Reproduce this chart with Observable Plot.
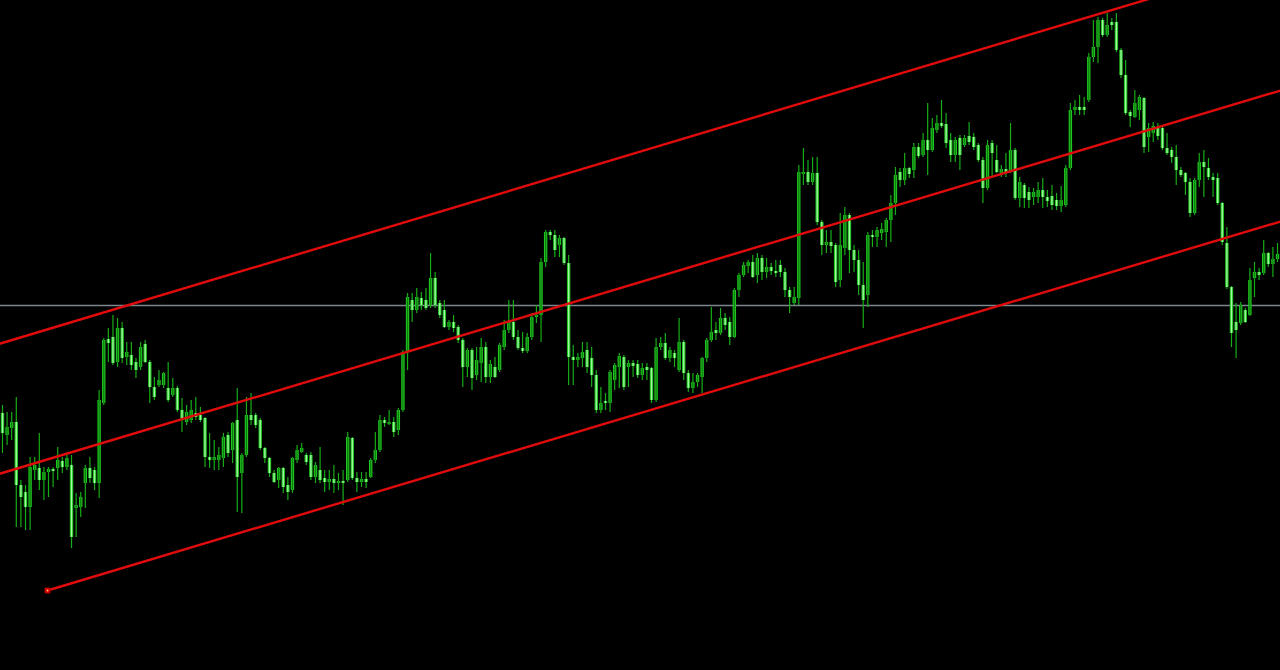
<!DOCTYPE html>
<html>
<head>
<meta charset="utf-8">
<script src="https://cdn.jsdelivr.net/npm/d3@7"></script>
<script src="https://cdn.jsdelivr.net/npm/@observablehq/plot@0.6"></script>
<style>
  html, body { margin: 0; padding: 0; background: #000; }
  #chart svg { display: block; overflow: hidden; }
</style>
</head>
<body>
<div id="chart"></div>
<script>
// Price series (arbitrary price units), one entry per bar
const open = [
587,565,572,578,515,508,493,530,532,520,
528,531,532,539,533,535,492,493,517,532,
530,517,597,661,663,638,672,643,645,638,
633,656,638,613,615,615,612,605,612,590,
578,580,587,585,582,543,540,540,542,565,
550,580,527,545,585,585,580,552,542,527,
520,532,515,510,540,548,545,545,523,530,
522,518,521,517,519,520,562,522,518,521,
523,540,550,580,576,578,570,590,648,700,
690,702,700,695,722,697,690,673,678,673,
660,633,650,625,637,653,623,633,630,653,
670,678,663,652,649,663,683,685,738,768,
765,755,762,737,643,640,642,650,642,625,
590,599,597,620,633,643,633,637,636,625,
633,632,600,653,657,642,647,630,658,627,
612,618,623,642,660,670,667,682,678,663,
710,725,734,738,725,742,728,733,729,735,
728,710,697,702,826,828,818,827,778,755,
758,755,720,752,785,750,740,715,705,765,
763,767,768,780,797,828,820,832,830,853,
845,860,850,870,877,876,860,845,862,855,
864,863,855,840,812,857,840,827,831,828,
850,802,815,808,803,803,810,803,804,800,
794,795,832,890,893,893,900,943,953,980,
965,978,978,950,925,888,883,890,902,863,
867,872,872,852,850,843,830,827,818,787,
820,838,832,823,822,797,757,713,678,677,
690,685,722,728,727,747,736,741
];
const high = [
595,588,588,603,520,515,543,543,567,533,
533,533,553,543,545,545,507,508,535,543,
533,610,662,672,685,682,678,658,658,642,
658,660,640,623,630,628,638,622,614,602,
595,600,603,593,583,567,560,553,567,568,
578,612,547,603,607,587,582,553,543,530,
533,533,523,543,555,557,547,548,538,553,
530,530,535,527,530,568,563,528,528,528,
542,568,585,583,590,583,592,650,707,707,
712,708,712,747,728,700,700,680,685,675,
662,652,652,653,662,658,640,643,657,680,
700,700,670,668,667,687,695,742,770,770,
770,765,763,745,655,647,658,658,653,630,
613,607,630,637,647,645,640,640,640,637,
637,633,662,663,667,653,650,682,660,630,
627,627,643,662,693,678,692,687,683,712,
727,738,740,745,747,745,742,737,740,740,
732,713,713,835,852,840,843,843,780,770,
770,757,787,793,787,755,750,738,768,770,
773,777,782,805,833,832,847,833,857,857,
867,897,882,885,900,887,867,863,865,865,
878,867,857,843,860,860,855,835,847,877,
852,823,817,813,812,818,822,810,815,807,
814,835,897,900,905,903,947,980,983,982,
987,982,987,952,940,890,910,905,903,877,
878,877,874,867,853,855,833,828,822,822,
847,850,842,827,827,798,773,714,697,698,
692,732,738,732,760,748,753,757
];
const low = [
547,555,560,473,473,470,470,520,510,500,
503,513,520,527,530,452,463,483,492,517,
510,502,595,638,635,633,637,635,630,622,
630,637,597,600,613,612,598,603,588,568,
575,577,580,578,533,532,530,530,533,543,
537,488,487,543,575,572,550,537,523,517,
512,507,500,507,537,547,535,520,517,517,
508,510,507,510,495,518,520,508,513,512,
522,537,548,573,575,563,565,588,630,678,
687,690,690,692,692,682,672,670,668,657,
613,623,610,620,618,617,617,622,628,650,
667,660,650,647,647,660,677,658,733,760,
743,743,735,615,615,633,633,627,613,587,
587,590,588,610,612,610,613,623,622,620,
620,597,598,650,640,638,633,628,620,608,
607,613,607,638,658,660,665,670,655,662,
703,723,727,722,717,720,722,725,723,723,
703,687,695,695,815,815,815,775,745,747,
747,713,713,745,727,728,705,672,693,753,
753,760,753,758,785,813,815,822,822,842,
843,825,848,867,872,852,838,838,830,853,
855,850,838,797,810,822,827,823,823,827,
800,793,792,792,795,797,792,793,790,790,
788,793,830,885,885,885,898,938,937,963,
963,970,948,922,885,873,882,880,847,848,
858,860,850,845,837,815,823,805,783,785,
813,803,820,803,795,755,711,653,642,675,
677,684,703,720,725,733,723,738
];
const close = [
567,573,578,515,503,493,533,535,520,528,
531,529,540,533,542,463,495,503,532,522,
517,600,660,657,637,672,642,648,635,630,
653,638,613,603,620,627,600,612,590,580,
588,590,583,580,543,540,543,545,563,547,
577,523,545,585,580,575,552,542,527,518,
532,513,508,542,550,552,538,523,535,520,
518,521,517,519,517,563,522,518,521,518,
540,550,580,577,578,568,590,648,703,690,
703,695,692,722,695,685,673,678,672,660,
633,650,622,640,653,623,636,623,655,670,
678,663,652,649,663,683,685,738,768,765,
750,762,737,643,640,643,648,633,625,590,
597,597,628,635,644,613,637,634,625,632,
630,600,653,657,642,650,642,658,627,612,
618,625,642,660,668,667,682,675,663,710,
725,735,738,723,742,728,733,729,727,728,
710,703,703,828,828,818,827,778,755,758,
754,718,755,785,750,740,715,700,765,763,
770,771,780,797,825,820,832,826,853,844,
860,850,872,877,874,857,845,860,845,862,
858,853,840,812,855,847,828,831,827,850,
802,818,802,800,808,810,803,799,795,794,
800,832,890,893,890,890,943,953,980,965,
975,975,950,925,887,884,897,903,853,872,
874,864,852,847,843,830,825,818,787,820,
838,833,823,820,797,758,713,667,670,695,
678,720,728,725,747,736,741,746
];

// Horizontal price level
const levelPrice = [695];

// Equidistant channel: bar positions and prices of the three lines
const channelBars = [-0.43, 277.65];
const upperPrices = [657, 1041];
const middlePrices = [527, 910];
const lowerBars = [9.78, 277.65];
const lowerPrices = [410, 779];

const n = Math.min(open.length, high.length, low.length, close.length);
const bars = d3.range(n).map(i => {
  const o = open[i], c = close[i];
  let lo = Math.min(o, c), hi = Math.max(o, c);
  if (hi - lo < 2) { const m = (hi + lo) / 2; lo = m - 1; hi = m + 1; }
  return {
    i, o, c,
    h: Math.max(high[i], o, c),
    l: Math.min(low[i], o, c),
    bLo: lo, bHi: hi,
    up: c > o
  };
});
const ups = bars.filter(d => d.up);
const downs = bars.filter(d => !d.up);

const line = (xs, ys) => xs.map((x, k) => ({x, y: ys[k]}));

const chart = Plot.plot({
  width: 1280,
  height: 670,
  margin: 0,
  x: {domain: [-0.43, 277.65], axis: null},
  y: {domain: [330, 1000], axis: null},
  style: {background: "#000", overflow: "hidden"},
  marks: [
    Plot.ruleY(levelPrice, {stroke: "#7d868f", strokeWidth: 1.4}),
    Plot.ruleX(bars, {x: "i", y1: "l", y2: "h", stroke: "#16ad16", strokeWidth: 1.2}),
    Plot.ruleX(bars, {x: "i", y1: "bLo", y2: "bHi", stroke: "#22c622", strokeWidth: 3.4}),
    Plot.ruleX(ups, {x: "i", y1: "bLo", y2: "bHi", stroke: "#0c800c", strokeWidth: 1.3}),
    Plot.ruleX(downs, {x: "i", y1: "bLo", y2: "bHi", stroke: "#a4f8a4", strokeWidth: 1.3}),
    Plot.line(line(channelBars, upperPrices), {x: "x", y: "y", stroke: "#e00c0c", strokeWidth: 2.4, clip: true}),
    Plot.line(line(channelBars, middlePrices), {x: "x", y: "y", stroke: "#e00c0c", strokeWidth: 2.4, clip: true}),
    Plot.line(line(lowerBars, lowerPrices), {x: "x", y: "y", stroke: "#e00c0c", strokeWidth: 2.4, clip: true}),
    Plot.dot([{x: lowerBars[0], y: lowerPrices[0]}], {x: "x", y: "y", symbol: "square", r: 2.8, fill: "#e00000", stroke: "#b00000", strokeWidth: 1}),
    Plot.dot([{x: lowerBars[0], y: lowerPrices[0]}], {x: "x", y: "y", r: 0.9, fill: "#f3c37a"})
  ]
});
document.getElementById("chart").appendChild(chart);
</script>
</body>
</html>
